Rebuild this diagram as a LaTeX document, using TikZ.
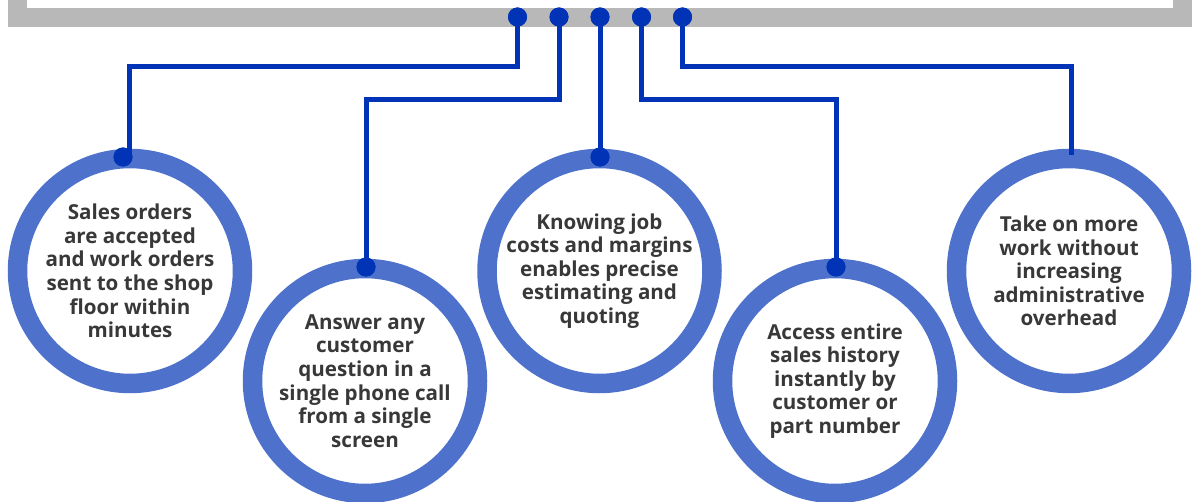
\documentclass[tikz,border=0pt]{standalone}
\usepackage{fontspec}
\setmainfont{Open Sans}
\definecolor{framegray}{HTML}{B8B8B8}
\definecolor{ringblue}{HTML}{4E72CB}
\definecolor{lineblue}{HTML}{0033B5}
\definecolor{txt}{HTML}{383838}
\tikzset{
  ring/.style={circle, draw=ringblue, line width=19.5pt, fill=white, minimum size=225pt, inner sep=0pt,
    align=center, text=txt, font=\bfseries\fontsize{20.6pt}{23.6pt}\selectfont},
  dotnode/.style={circle, fill=lineblue, inner sep=0pt, minimum size=19pt},
  conn/.style={draw=lineblue, line width=5pt}
}
\begin{document}
\begin{tikzpicture}[x=1pt,y=-1pt]
\useasboundingbox (0,0) rectangle (1197,502);
% frame
\fill[framegray] (8,-10) rectangle (1192,27);
\fill[white] (27,-10) rectangle (1173,8);
% circles
\node[ring] (c1) at (130,271) {Sales orders\\are accepted\\and work orders\\sent to the shop\\floor within\\minutes};
\node[ring] (c2) at (365,381) {Answer any\\customer\\question in a\\single phone call\\from a single\\screen};
\node[ring] (c3) at (599.5,271) {Knowing job\\costs and margins\\enables precise\\estimating and\\quoting};
\node[ring] (c4) at (835,381) {Access entire\\sales history\\instantly by\\customer or\\part number};
\node[ring] (c5) at (1069,271) {Take on more\\work without\\increasing\\administrative\\overhead};
% top dots
\node[dotnode] (t1) at (517.5,17) {};
\node[dotnode] (t2) at (559,17) {};
\node[dotnode] (t3) at (600,17) {};
\node[dotnode] (t4) at (641.5,17) {};
\node[dotnode] (t5) at (682.5,17) {};
% end dots
\node[dotnode] (e1) at (123,157) {};
\node[dotnode] (e2) at (366,267) {};
\node[dotnode] (e3) at (600,157) {};
\node[dotnode] (e4) at (836,267) {};
\coordinate (e5) at (1071,155);
% corners
\coordinate (k1) at (129,67);
\coordinate (k2) at (366,99.5);
\coordinate (k4) at (836,99.5);
\coordinate (k5) at (1071,67);
% connectors
\draw[conn] (t1.center) |- (k1) -- (k1 |- e1);
\draw[conn] (t2.center) |- (k2) -- (e2.center);
\draw[conn] (t3.center) -- (e3.center);
\draw[conn] (t4.center) |- (k4) -- (e4.center);
\draw[conn] (t5.center) |- (k5) -- (e5);
% redraw dots over connectors
\foreach \n in {t1,t2,t3,t4,t5,e1,e2,e3,e4}{\fill[lineblue] (\n) circle (9.5pt);}
\end{tikzpicture}
\end{document}
